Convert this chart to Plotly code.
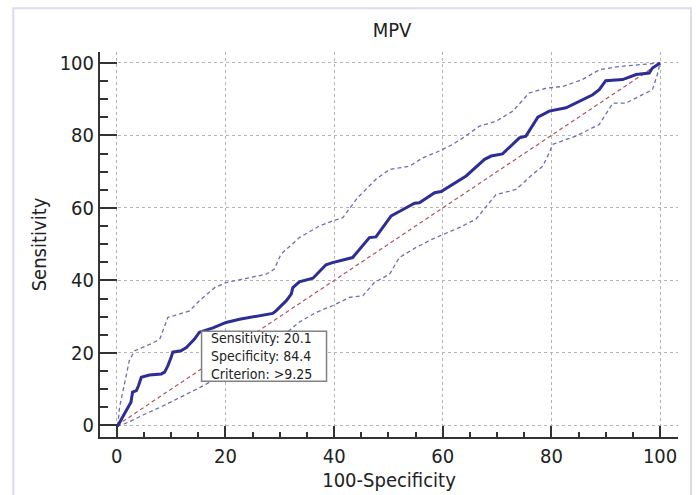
import plotly.graph_objects as go

# ROC curve (100-Specificity, Sensitivity)
roc_x = [0, 0.2, 1.4, 2.6, 2.9, 3.6, 4.0, 4.5, 6.0, 8.2, 8.8, 9.4, 10.0, 10.3, 11.8, 12.8, 14.3, 15.2,
         17.7, 20.1, 22.6, 25.6, 28.7, 29.3, 30.2, 31.2, 32.1, 32.4, 33.6, 36.1, 38.5, 39.7, 43.4, 45.3,
         46.5, 47.7, 48.9, 50.5, 52.0, 54.8, 55.7, 58.5, 59.7, 64.3, 67.7, 68.9, 71.0, 74.1, 75.3, 77.5,
         79.6, 82.7, 87.6, 88.8, 90.0, 93.1, 95.6, 98.0, 98.6, 100]
roc_y = [0, 0, 3.2, 6.4, 9.2, 9.6, 11.0, 13.3, 13.9, 14.2, 14.7, 16.5, 18.8, 20.2, 20.6, 21.5, 23.8, 25.7,
         26.9, 28.4, 29.3, 30.0, 30.9, 31.6, 33.0, 34.4, 36.2, 38.0, 39.6, 40.6, 44.3, 44.9, 46.3, 49.5,
         51.8, 52.0, 54.6, 57.8, 59.0, 61.3, 61.4, 64.2, 64.5, 68.8, 73.4, 74.3, 74.9, 79.3, 79.8, 85.0,
         86.7, 87.6, 91.2, 92.6, 95.1, 95.4, 96.8, 97.2, 98.6, 100]

# Upper 95% confidence bound
up_x = [0, 0.2, 0.5, 2.3, 3.3, 4.8, 6.3, 7.9, 9.4, 10.6, 13.4, 15.2, 18.0, 20.1, 25.6, 27.5, 29.0, 30.2,
        33.6, 37.3, 39.7, 41.6, 44.3, 47.7, 50.2, 53.9, 56.3, 59.4, 61.8, 63.7, 66.7, 69.8, 72.9, 75.9,
        79.0, 82.1, 85.7, 88.8, 92.5, 96.2, 99.5, 100]
up_y = [0, 0.5, 5.0, 17.9, 20.6, 21.5, 22.5, 23.8, 29.8, 30.3, 31.6, 34.4, 38.0, 39.4, 41.0, 41.7, 43.1, 47.2,
        51.8, 55.0, 56.4, 57.3, 62.8, 67.9, 70.6, 71.5, 73.8, 75.7, 77.5, 79.3, 82.5, 83.9, 86.7, 91.7,
        93.0, 93.5, 95.4, 98.1, 99.0, 99.4, 99.9, 100]

# Lower 95% confidence bound
lo_x = [0, 1.5, 3.0, 5.0, 8.0, 12.0, 16.0, 20.0, 25.0, 30.0, 33.6, 36.7, 39.7, 42.8, 45.3, 47.4, 50.2,
        52.0, 55.1, 58.1, 60.0, 63.1, 66.1, 67.9, 69.8, 72.3, 73.5, 76.5, 78.4, 79.6, 80.2, 84.5, 88.8,
        91.3, 93.7, 96.2, 98.6, 99.5, 100]
lo_y = [0, 0.5, 1.5, 3.0, 5.0, 8.0, 11.0, 14.5, 19.0, 24.0, 28.5, 31.2, 33.0, 35.3, 35.8, 39.4, 41.7,
        46.3, 49.1, 51.4, 52.7, 54.6, 56.9, 60.1, 63.7, 64.6, 65.1, 69.2, 71.5, 75.2, 77.5, 79.8, 83.0,
        88.9, 88.9, 90.8, 92.6, 96.8, 100]

# Reference diagonal
diag_x = [0, 100]
diag_y = [0, 100]

# Criterion box
crit_sens = 20.1
crit_spec = 84.4
crit_label = ">9.25"

x_ticks = [0, 20, 40, 60, 80, 100]
y_ticks = [0, 20, 40, 60, 80, 100]

FONT = "DejaVu Sans Condensed, DejaVu Sans, sans-serif"

fig = go.Figure()
fig.add_trace(go.Scatter(x=diag_x, y=diag_y, mode="lines",
                         line=dict(color="rgb(175,85,95)", width=1.2, dash="4px,3px"),
                         hoverinfo="skip"))
fig.add_trace(go.Scatter(x=up_x, y=up_y, mode="lines",
                         line=dict(color="rgb(110,110,175)", width=1.3, dash="4px,3px"),
                         hoverinfo="skip"))
fig.add_trace(go.Scatter(x=lo_x, y=lo_y, mode="lines",
                         line=dict(color="rgb(110,110,175)", width=1.3, dash="4px,3px"),
                         hoverinfo="skip"))
fig.add_trace(go.Scatter(x=roc_x, y=roc_y, mode="lines",
                         line=dict(color="rgb(45,45,150)", width=3),
                         hoverinfo="skip"))

# Criterion box: frame + text
bx0 = 100 - crit_spec
fig.add_shape(type="rect", xref="x", yref="y", x0=bx0, x1=bx0 + 23.0, y0=12.2, y1=26.0,
              line=dict(color="rgb(130,130,130)", width=1.5), fillcolor="white", layer="above")
fig.add_annotation(
    x=bx0 + 1.6, y=19.1, xref="x", yref="y", showarrow=False,
    xanchor="left", yanchor="middle", align="left",
    text=f"Sensitivity: {crit_sens}<br>Specificity: {crit_spec}<br>Criterion: {crit_label}",
    font=dict(family=FONT, size=14, color="#222222"), borderpad=0,
)

# Outer light frame
fig.add_shape(type="rect", xref="paper", yref="paper", x0=-0.150, x1=1.0225, y0=-0.17, y1=1.1134,
              line=dict(color="rgb(218,218,240)", width=2), layer="below")

axis_common = dict(
    showline=True, linecolor="#333333", linewidth=2,
    ticks="inside", tickcolor="#333333", tickwidth=2,
    showgrid=True, gridcolor="rgb(180,180,180)", gridwidth=1, griddash="3px,3px",
    zeroline=False, tickfont=dict(family=FONT, size=20, color="#222222"),
    mirror=False, automargin=False,
)

fig.update_xaxes(**axis_common, range=[-3.1, 103.3], tickvals=x_ticks, ticklen=11,
                 minor=dict(ticks="inside", dtick=5, ticklen=5, tickwidth=1.5, tickcolor="#333333",
                            showgrid=False),
                 title=dict(text="100-Specificity", font=dict(family=FONT, size=20, color="#222222"),
                            standoff=6))
fig.update_yaxes(**axis_common, range=[-3.2, 103], tickvals=y_ticks, ticklen=17,
                 minor=dict(ticks="inside", dtick=5, ticklen=8, tickwidth=1.5, tickcolor="#333333",
                            showgrid=False),
                 title=dict(text="Sensitivity", font=dict(family=FONT, size=20, color="#222222"),
                            standoff=8))

fig.update_layout(
    width=696, height=495,
    margin=dict(l=100, r=18, t=52, b=58),
    paper_bgcolor="white", plot_bgcolor="white",
    showlegend=False,
    title=dict(text="MPV", x=(392 - 100) / 578, xref="paper", xanchor="center",
               y=1 - 30 / 495, yanchor="middle",
               font=dict(family=FONT, size=20, color="#222222")),
)

fig.write_html("out.html", config={"displayModeBar": False},
               post_script="document.body.style.margin='0';")
